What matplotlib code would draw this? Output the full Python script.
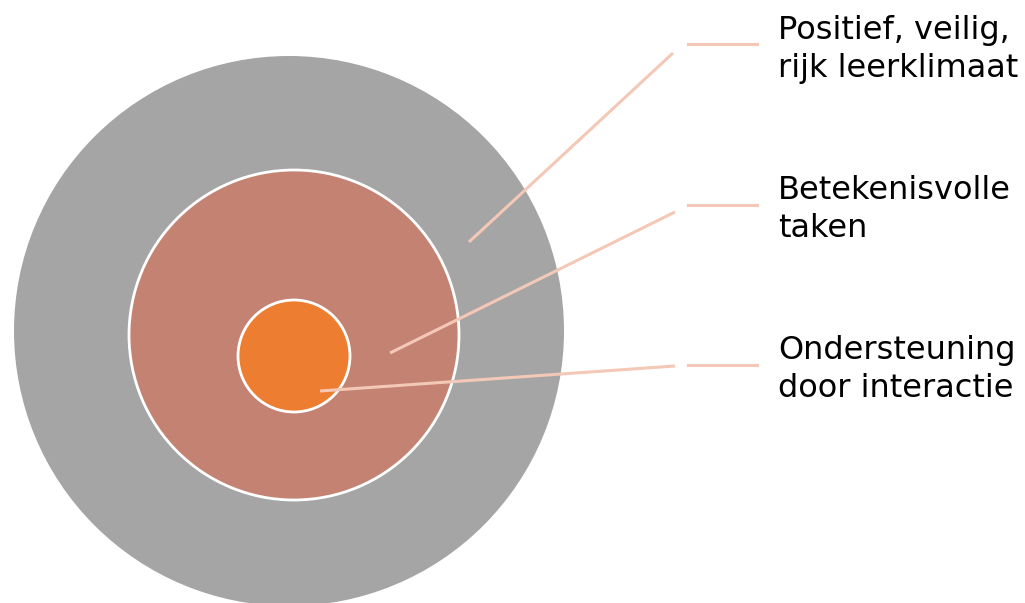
import matplotlib.pyplot as plt
from matplotlib.patches import Circle

# ringen (buiten -> binnen), in pixels van het origineel
ring_names = ["Positief, veilig,\nrijk leerklimaat", "Betekenisvolle\ntaken", "Ondersteuning\ndoor interactie"]
ring_cx = [289, 294, 294]
ring_cy = [331, 335, 356]
ring_r = [275, 165, 56]
ring_colors = ["#A5A5A5", "#C48272", "#ED7D31"]

# leader lines: start in de ring, knik, horizontaal stukje
lead_start = [(469, 242), (390, 353), (320, 391)]
lead_knee = [(673, 53), (675, 212), (675, 366)]
lead_hline_y = [44, 205, 365]
hline_x = (688, 757)
label_x = 778
label_baselines = [(39, 77), (199, 237), (359, 397)]

fig = plt.figure(figsize=(10.25, 6.03), dpi=100)
ax = fig.add_axes([0, 0, 1, 1])
ax.set_xlim(0, 1025)
ax.set_ylim(603, 0)
ax.set_aspect('equal')
ax.axis('off')

for i in range(len(ring_r)):
    ec = 'none' if i == 0 else 'white'
    c = Circle((ring_cx[i], ring_cy[i]), ring_r[i], facecolor=ring_colors[i],
               edgecolor=ec, linewidth=2, zorder=1 + i)
    ax.add_patch(c)

line_col = "#F4C8B6"
for i in range(len(ring_names)):
    (x0, y0), (x1, y1) = lead_start[i], lead_knee[i]
    ax.plot([x0, x1], [y0, y1], color=line_col, lw=2.2, zorder=10, solid_capstyle='butt')
    ax.plot(hline_x, [lead_hline_y[i]] * 2, color=line_col, lw=2.2, zorder=10)
    for line, yb in zip(ring_names[i].split("\n"), label_baselines[i]):
        ax.text(label_x, yb, line, fontsize=23, family='DejaVu Sans',
                va='baseline', ha='left', color='black')

plt.savefig("out.png", dpi=100)
